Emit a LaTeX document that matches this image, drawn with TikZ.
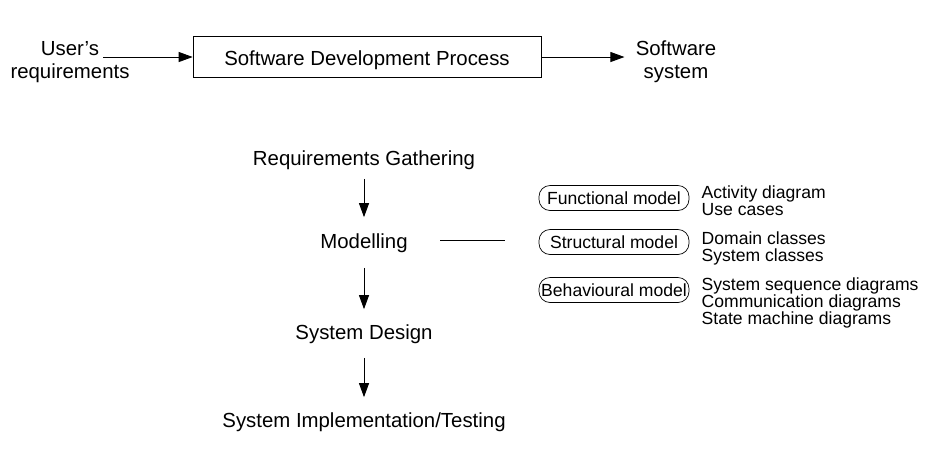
\documentclass[tikz,border=0pt]{standalone}
\usepackage{fontspec}
\setmainfont{Liberation Sans}
\usetikzlibrary{positioning,arrows.meta}
\newcommand{\bigtxt}{\fontsize{11.6}{13.2}\selectfont}
\newcommand{\smalltxt}{\fontsize{10}{9.7}\selectfont}
\tikzset{mylabel/.style={
  align=center,
  font=\bigtxt,
  inner sep=0pt,
  }
}
\tikzset{mybox/.style={
  draw=black,
  minimum width=6.96cm,
  minimum height=0.82cm,
  text height=10.5pt,
  text depth=1.2pt,
  font=\bigtxt,
  }
}
\tikzset{mypill/.style={
  draw=black,
  rounded corners=0.22cm,
  minimum width=3cm,
  minimum height=0.5cm,
  inner sep=0pt,
  font=\smalltxt,
  }
}
\tikzset{mylist/.style={
  align=left,
  inner sep=0pt,
  font=\smalltxt,
  }
}
\tikzset{myarrow/.style={
  -{Triangle[length=0.28cm,width=0.2cm]},
  line width=0.5pt,
  }
}

\begin{document}
\begin{tikzpicture}[x=0.02cm, y=-0.02cm]
      \useasboundingbox (0,0) rectangle (926,451);
      % top row
      \node [mylabel] (u1) at (70,62) {User’s\\requirements};
      \node [mybox] (p1) at (367,57) {Software Development Process};
      \node [mylabel] (o1) at (676,62) {Software\\system};
      \coordinate (u2) at (103,57);

      \draw [myarrow] (u2) -- (p1.west);
      \draw [myarrow, shorten >=0.22cm] (p1.east) -- (p1.east -| o1.west);

      % process steps
      \node [mylabel] (g1) at (364,160) {Requirements Gathering};
      \node [mylabel] (m1) at (364,243) {Modelling};
      \node [mylabel] (d1) at (364,334) {System Design};
      \node [mylabel] (i1) at (364,422) {System Implementation/Testing};

      \draw [myarrow, shorten <=0.18cm, shorten >=0.32cm] (g1) -- (m1);
      \draw [myarrow, shorten <=0.30cm, shorten >=0.30cm] (m1) -- (d1);
      \draw [myarrow, shorten <=0.28cm, shorten >=0.30cm] (d1) -- (i1);

      % models
      \coordinate (l1) at (440,240);
      \coordinate (l2) at (505,240);
      \draw [line width=0.5pt] (l1) -- (l2);

      \node [mypill] (f1) at (614,198) {Functional model};
      \node [mypill] (s1) at (614,242) {Structural model};
      \node [mypill] (b1) at (614,290) {Behavioural model};

      \node [mylist, right=0.24cm of f1.north east, anchor=north west] (f2)
        {Activity diagram\\Use cases};
      \node [mylist, right=0.24cm of s1.north east, anchor=north west, yshift=-0.04cm] (s2)
        {Domain classes\\System classes};
      \node [mylist, right=0.24cm of b1.north east, anchor=north west] (b2)
        {System sequence diagrams\\Communication diagrams\\State machine diagrams};
\end{tikzpicture}
\end{document}
